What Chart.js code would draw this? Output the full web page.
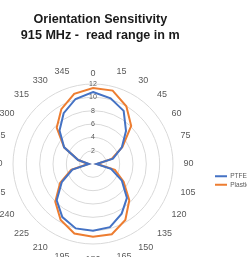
<!DOCTYPE html>
<html>
<head>
<meta charset="utf-8">
<script src="https://cdn.jsdelivr.net/npm/chart.js@4/dist/chart.umd.min.js"></script>
<style>
  html, body { margin: 0; padding: 0; background: #fff; overflow: hidden; }
  #wrap { width: 247px; height: 257px; }
</style>
</head>
<body>
<div id="wrap"><canvas id="chartCanvas"></canvas></div>
<script>
// angle categories (degrees)
const angleLabels = ['0', '15', '30', '45', '60', '75', '90', '105', '120', '135', '150', '165',
  '180', '195', '210', '225', '240', '255', '270', '285', '300', '315', '330', '345'];

// read range in m
const ptfeRange = [10.8, 10.2, 9.2, 7.0, 5.0, 3.1, 0.5, 2.8, 5.0, 7.2, 8.6, 9.8,
  10.0, 10.0, 9.2, 7.7, 5.4, 3.2, 0.6, 2.3, 5.0, 7.1, 8.8, 10.1];
const plasticRange = [11.4, 11.4, 10.0, 8.1, 5.1, 2.9, 0.6, 3.4, 5.3, 7.7, 9.7, 10.9,
  10.9, 10.8, 9.7, 8.0, 5.7, 3.4, 0.7, 2.3, 5.0, 7.7, 9.5, 10.9];

const rangeMin = 0;
const rangeMax = 12;
const rangeStep = 2;

const greyText = '#595959';

// move the legend block to where the reference has it
const legendShift = {
  id: 'legendShift',
  afterLayout(chart) {
    const lg = chart.legend;
    if (!lg) return;
    const dx = 223 - (lg.left + 10);
    const dy = 52;
    lg.left += dx; lg.right += dx;
    lg.top += dy; lg.bottom += dy;
  }
};

function renderChart() {
  const ctx = document.getElementById('chartCanvas').getContext('2d');
  if (window.chart) window.chart.destroy();

  window.chart = new Chart(ctx, {
    type: 'radar',
    data: {
      labels: angleLabels,
      datasets: [
        {
          label: 'PTFE',
          data: ptfeRange,
          borderColor: '#4472C4',
          backgroundColor: '#4472C4',
          borderWidth: 2,
          fill: false,
          pointRadius: 0
        },
        {
          label: 'Plastic',
          data: plasticRange,
          borderColor: '#ED7D31',
          backgroundColor: '#ED7D31',
          borderWidth: 2,
          fill: false,
          pointRadius: 0
        }
      ]
    },
    options: {
      responsive: true,
      maintainAspectRatio: false,
      animation: false,
      plugins: {
        title: {
          display: true,
          fullSize: false,
          text: ['Orientation Sensitivity', '915 MHz -  read range in m'],
          color: '#1a1a1a',
          font: { family: "'Liberation Sans', Arial, sans-serif", size: 12.6, weight: 'bold', lineHeight: 1.3 },
          padding: { top: 11, bottom: 4 }
        },
        legend: {
          position: 'right',
          labels: {
            color: greyText,
            font: { size: 6.5 },
            boxWidth: 12,
            boxHeight: 2,
            padding: 2,
            generateLabels: chart =>
              Chart.defaults.plugins.legend.labels.generateLabels(chart).map(l => ({ ...l, lineWidth: 0 }))
          }
        },
        tooltip: { enabled: false }
      },
      scales: {
        r: {
          min: rangeMin,
          max: rangeMax,
          ticks: {
            stepSize: rangeStep,
            showLabelBackdrop: false,
            color: greyText,
            font: { size: 7 }
          },
          grid: { circular: true, color: '#d9d9d9' },
          angleLines: { display: false },
          pointLabels: {
            color: greyText,
            font: { size: 9 },
            padding: c => (c.index === 0 ? 0 : 5)
          },
          // pin the plot where the reference has it
          afterSetDimensions: s => {
            s.xCenter = 93;
            s.yCenter = 164;
            s.drawingArea = 80;
            s.left = -1000;
            s.right = 1247;
            s.top = -1000;
            s.bottom = 1257;
          }
        }
      }
    },
    plugins: [legendShift]
  });
}

renderChart();
</script>
</body>
</html>
